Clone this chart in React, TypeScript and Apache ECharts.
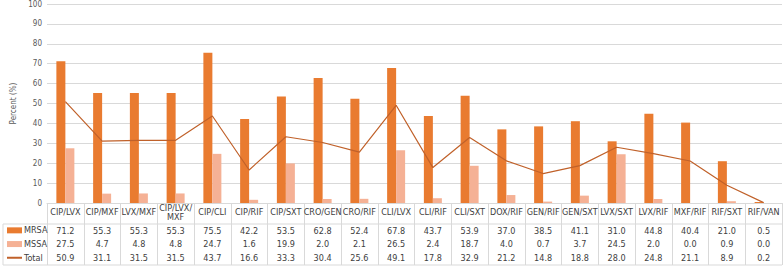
import React, { useEffect, useRef } from "react";
import * as echarts from "echarts";

const categories = [
  "CIP/LVX", "CIP/MXF", "LVX/MXF", "CIP/LVX/\nMXF", "CIP/CLI", "CIP/RIF", "CIP/SXT",
  "CRO/GEN", "CRO/RIF", "CLI/LVX", "CLI/RIF", "CLI/SXT", "DOX/RIF", "GEN/RIF",
  "GEN/SXT", "LVX/SXT", "LVX/RIF", "MXF/RIF", "RIF/SXT", "RIF/VAN",
];
const mrsa = [71.2, 55.3, 55.3, 55.3, 75.5, 42.2, 53.5, 62.8, 52.4, 67.8, 43.7, 53.9, 37.0, 38.5, 41.1, 31.0, 44.8, 40.4, 21.0, 0.5];
const mssa = [27.5, 4.7, 4.8, 4.8, 24.7, 1.6, 19.9, 2.0, 2.1, 26.5, 2.4, 18.7, 4.0, 0.7, 3.7, 24.5, 2.0, 0.0, 0.9, 0.0];
const total = [50.9, 31.1, 31.5, 31.5, 43.7, 16.6, 33.3, 30.4, 25.6, 49.1, 17.8, 32.9, 21.2, 14.8, 18.8, 28.0, 24.8, 21.1, 8.9, 0.2];
const yTicks = { min: 0, max: 100, interval: 10 };

const FONT = "'Liberation Sans Narrow', 'DejaVu Sans Condensed', 'Roboto Condensed', 'Liberation Sans', sans-serif";
const GRID_COLOR = "#d9d9d9";
const TEXT_COLOR = "#404040";

export default function App() {
  const ref = useRef<HTMLDivElement>(null);
  useEffect(() => {
    if (!ref.current) return;
    const chart = echarts.init(ref.current, null, { renderer: "svg" });
    const rowAxis = (offset: number, values: number[]) => ({
      type: "category",
      data: categories,
      gridIndex: 0,
      position: "bottom",
      offset,
      axisLine: { show: false },
      axisTick: { show: false },
      splitLine: { show: false },
      axisLabel: {
        interval: 0,
        margin: 0,
        verticalAlign: "middle",
        fontFamily: FONT,
        fontSize: 9,
        color: TEXT_COLOR,
        formatter: (_v: string, i: number) => values[i].toFixed(1),
      },
    });
    chart.setOption({
      animation: false,
      textStyle: { fontFamily: FONT },
      grid: { left: 47, right: 2, top: 3, height: 200 },
      legend: {
        orient: "vertical",
        left: 6,
        top: 223.5,
        padding: 0,
        itemWidth: 15,
        itemHeight: 6,
        itemGap: 0,
        selectedMode: false,
        textStyle: { fontFamily: FONT, fontSize: 9, color: TEXT_COLOR, lineHeight: 13.7, padding: [0, 0, 0, -3] },
        data: [
          { name: "MRSA", icon: "rect" },
          { name: "MSSA", icon: "rect" },
          { name: "Total", itemStyle: { color: "transparent", opacity: 0, borderWidth: 0 } },
        ],
      },
      xAxis: [
        {
          type: "category",
          data: categories,
          axisLine: { show: true, lineStyle: { color: GRID_COLOR } },
          axisTick: { show: true, length: 62, lineStyle: { color: GRID_COLOR } },
          axisLabel: {
            interval: 0,
            margin: 9,
            verticalAlign: "middle",
            fontFamily: FONT,
            fontSize: 9,
            lineHeight: 9,
            color: TEXT_COLOR,
          },
        },
        rowAxis(27.5, mrsa),
        rowAxis(41, mssa),
        rowAxis(55, total),
      ],
      yAxis: {
        type: "value",
        min: yTicks.min,
        max: yTicks.max,
        interval: yTicks.interval,
        name: "Percent (%)",
        nameLocation: "middle",
        nameGap: 30,
        nameTextStyle: { fontFamily: FONT, fontSize: 8, color: "#595959" },
        axisLine: { show: false },
        axisTick: { show: false },
        axisLabel: { fontFamily: FONT, fontSize: 8, color: "#595959", margin: 5 },
        splitLine: { lineStyle: { color: GRID_COLOR } },
      },
      graphic: [
        { type: "line", shape: { x1: 3, y1: 224, x2: 782, y2: 224 }, style: { stroke: GRID_COLOR, lineWidth: 1 } },
        { type: "line", shape: { x1: 3, y1: 265, x2: 782, y2: 265 }, style: { stroke: GRID_COLOR, lineWidth: 1 } },
        { type: "line", shape: { x1: 3, y1: 224, x2: 3, y2: 265 }, style: { stroke: GRID_COLOR, lineWidth: 1 } },
      ],
      series: [
        {
          name: "MRSA",
          type: "bar",
          data: mrsa,
          barWidth: 9,
          barGap: "0%",
          itemStyle: { color: "#E97B30" },
        },
        {
          name: "MSSA",
          type: "bar",
          data: mssa,
          barWidth: 9,
          itemStyle: { color: "#F5B195" },
        },
        {
          name: "Total",
          type: "line",
          data: total,
          symbol: "none",
          lineStyle: { color: "#C0612A", width: 1.2 },
          itemStyle: { color: "#C0612A" },
        },
      ],
    });
    return () => chart.dispose();
  }, []);
  return <div ref={ref} style={{ position: "absolute", left: 0, top: 0, width: 784, height: 266 }} />;
}
